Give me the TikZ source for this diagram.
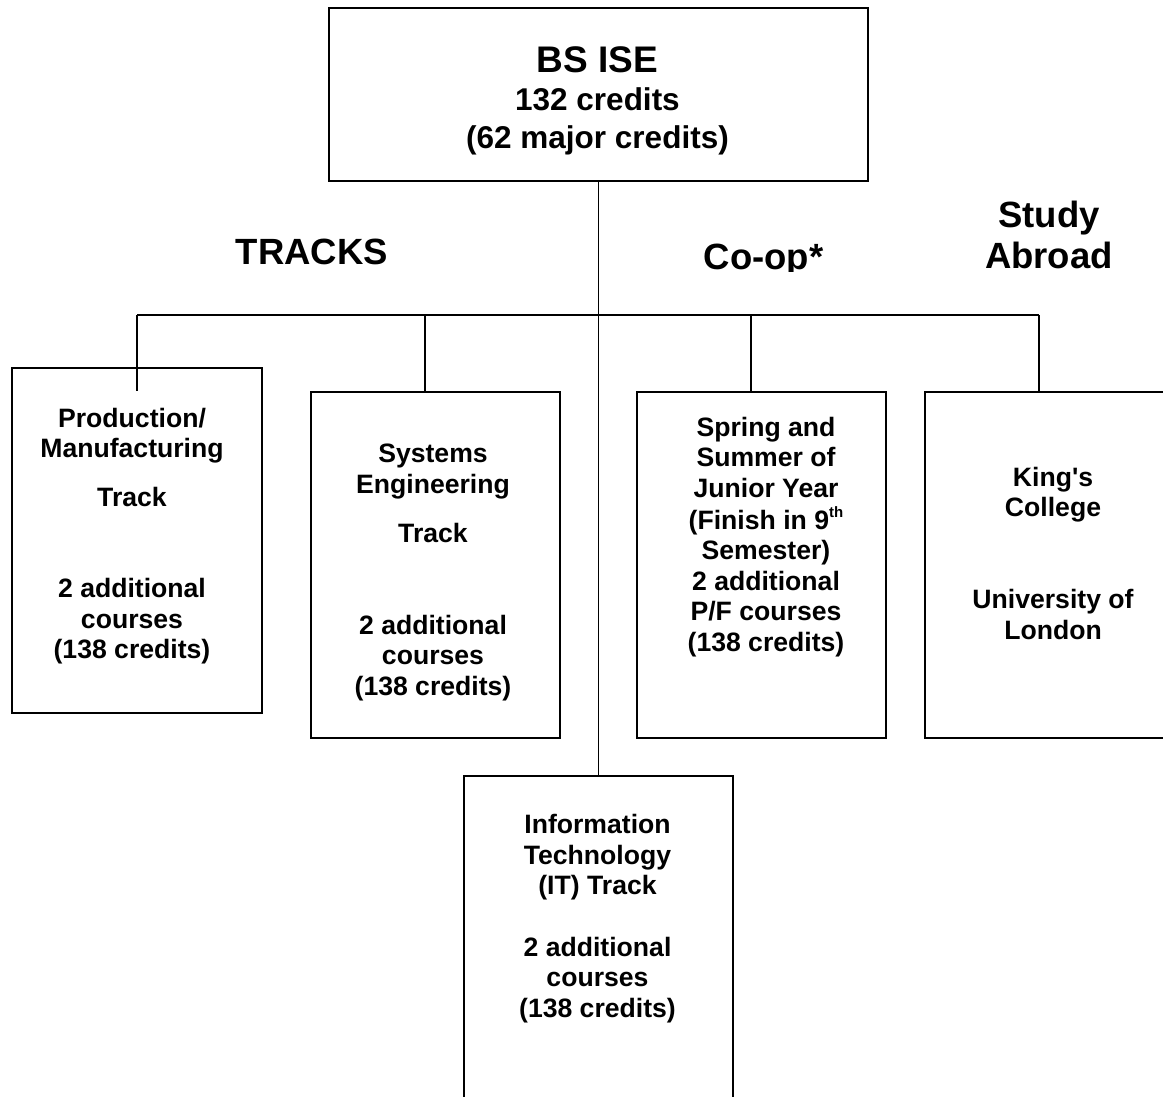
\documentclass[tikz,border=0pt]{standalone}
\usepackage{fontspec}
\setmainfont{Liberation Sans}[Ligatures=TeXOff]
\begin{document}
\begin{tikzpicture}[x=1pt,y=-1pt,
  box/.style={draw, line width=2pt, rectangle, inner sep=0pt, anchor=north west},
  conn/.style={line width=1.5pt},
  boxtext/.style={font=\fontsize{26.6}{30.5}\selectfont\bfseries, inner sep=0pt, anchor=base},
  toptext/.style={font=\fontsize{31.5}{38}\selectfont\bfseries, inner sep=0pt, anchor=base},
  head/.style={font=\fontsize{36.5}{41}\selectfont\bfseries, inner sep=0pt, anchor=base}]
\useasboundingbox (0,0) rectangle (1163,1097);
\clip (0,0) rectangle (1163,1097);
% boxes
\node[box, minimum width=539pt, minimum height=173pt] (top) at (328,7) {};
\node[box, minimum width=250pt, minimum height=345pt] (b1) at (11,367) {};
\node[box, minimum width=249pt, minimum height=346pt] (b2) at (310,391) {};
\node[box, minimum width=249pt, minimum height=346pt] (b4) at (636,391) {};
\node[box, minimum width=260pt, minimum height=346pt] (b5) at (924,391) {};
\node[box, minimum width=269pt, minimum height=340pt] (it) at (463,775) {};
% connectors
\coordinate (h1) at (137,315);
\coordinate (h2) at (425,315);
\coordinate (h4) at (751,315);
\coordinate (h5) at (1039,315);
\coordinate (d1) at (137,391);
\draw[conn] (top.south) -- (it.north);
\draw[conn] (h1) -- (h5);
\draw[conn] (h1) -- (d1);
\draw[conn] (h2) -- (h2 |- b2.north);
\draw[conn] (h4) -- (h4 |- b4.north);
\draw[conn] (h5) -- (h5 |- b5.north);
% texts
\node[toptext] (t0) at (597.5,72.7) {\begin{tabular}[t]{@{}c@{}}{\fontsize{37}{38}\selectfont BS ISE}\\ 132 credits\\ (62 major credits)\end{tabular}};
\node[boxtext] (t1) at (132,427) {\begin{tabular}[t]{@{}c@{}}Production/\\ Manufacturing\\[18pt] Track\\[61pt] 2 additional\\ courses\\ (138 credits)\end{tabular}};
\node[boxtext] (t2) at (433,462.5) {\begin{tabular}[t]{@{}c@{}}Systems\\ Engineering\\[19pt] Track\\[61pt] 2 additional\\ courses\\ (138 credits)\end{tabular}};
\node[boxtext] (t4) at (766,436) {\begin{tabular}[t]{@{}c@{}}Spring and\\ Summer of\\ Junior Year\\ (Finish in 9\raisebox{12pt}{\fontsize{15}{15}\selectfont th}\\ Semester)\\ 2 additional\\ P/F courses\\ (138 credits)\end{tabular}};
\node[boxtext] (t5) at (1053,486) {\begin{tabular}[t]{@{}c@{}}King's\\ College\\[61.5pt] University of\\ London\end{tabular}};
\node[boxtext] (tit) at (597.5,833.5) {\begin{tabular}[t]{@{}c@{}}Information\\ Technology\\ (IT) Track\\[31pt] 2 additional\\ courses\\ (138 credits)\end{tabular}};
% headings
\node[head] (tracks) at (312,264) {TRACKS};
\begin{scope}
\clip (640,150) rectangle (1163,271);
\node[head] (coop) at (763.5,269.5) {Co-op*};
\node[head] (abroad) at (1049,228) {\begin{tabular}[t]{@{}c@{}}Study\\ Abroad\end{tabular}};
\end{scope}
\end{tikzpicture}
\end{document}
